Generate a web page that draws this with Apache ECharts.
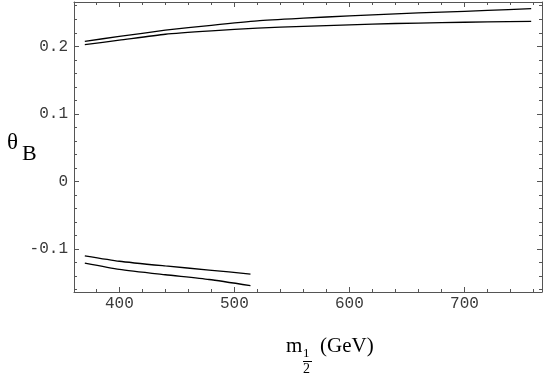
<!DOCTYPE html>
<html>
<head>
<meta charset="utf-8">
<script src="https://cdn.jsdelivr.net/npm/echarts@6/dist/echarts.min.js"></script>
<style>html,body{margin:0;padding:0;background:#fff}#c{width:545px;height:383px}</style>
</head>
<body>
<div id="c"></div>
<script>
// Upper branch (two curves)
var upperX = [370, 400, 440, 480, 520, 560, 600, 640, 680, 720, 758];
var upperA = [0.2074, 0.2145, 0.2238, 0.2310, 0.2375, 0.2415, 0.2450, 0.2480, 0.2505, 0.2530, 0.2557];
var upperB = [0.2025, 0.2090, 0.2178, 0.2228, 0.2268, 0.2295, 0.2318, 0.2337, 0.2350, 0.2360, 0.2369];
// Lower branch (two curves)
var lowerX = [370, 400, 440, 478, 514];
var lowerA = [-0.110, -0.118, -0.125, -0.131, -0.137];
var lowerB = [-0.1207, -0.130, -0.138, -0.145, -0.154];
// Ticks
var xMajor = [400, 500, 600, 700];
var xMinor = [380, 420, 440, 460, 480, 520, 540, 560, 580, 620, 640, 660, 680, 720, 740, 760];
var yMajor = [-0.1, 0, 0.1, 0.2];
var yMinor = [-0.16, -0.14, -0.12, -0.08, -0.06, -0.04, -0.02, 0.02, 0.04, 0.06, 0.08, 0.12, 0.14, 0.16, 0.18, 0.22, 0.24, 0.26];

var XMIN = 360.6, XMAX = 767.4, YMIN = -0.1635, YMAX = 0.2655;
function pairs(xs, ys) { return xs.map(function (x, i) { return [x, ys[i]]; }); }

var lineCol = '#555';
var labCol = '#3a3a3a';
function xAx(pos, vals, len, showLine, showLabel) {
  return {
    type: 'value', gridIndex: 0, position: pos, min: XMIN, max: XMAX,
    splitLine: { show: false },
    axisLine: { show: showLine, onZero: false, lineStyle: { color: lineCol, width: 1 } },
    axisTick: { show: true, inside: true, length: len, customValues: vals, lineStyle: { color: lineCol, width: 1 } },
    axisLabel: { show: showLabel, customValues: vals, margin: 4, color: labCol,
      fontFamily: 'Liberation Mono', fontSize: 16,
      formatter: function (v) { return String(Math.round(v)); } }
  };
}
function yAx(pos, vals, len, showLine, showLabel) {
  return {
    type: 'value', gridIndex: 0, position: pos, min: YMIN, max: YMAX,
    splitLine: { show: false },
    axisLine: { show: showLine, onZero: false, lineStyle: { color: lineCol, width: 1 } },
    axisTick: { show: true, inside: true, length: len, customValues: vals, lineStyle: { color: lineCol, width: 1 } },
    axisLabel: { show: showLabel, customValues: vals, margin: 6, color: labCol,
      fontFamily: 'Liberation Mono', fontSize: 16,
      formatter: function (v) { var r = Math.round(v * 10) / 10; return r === 0 ? '0' : String(r); } }
  };
}

var ser = function (xs, ys) {
  return { type: 'line', xAxisIndex: 0, yAxisIndex: 0, data: pairs(xs, ys), showSymbol: false,
    symbol: 'none', smooth: 0.2, lineStyle: { color: '#000', width: 1.3 }, animation: false };
};

var chart = echarts.init(document.getElementById('c'), null, { renderer: 'canvas' });
chart.setOption({
  animation: false,
  grid: { left: 74, right: 3, top: 2, bottom: 91, containLabel: false },
  xAxis: [
    xAx('bottom', xMajor, 5, true, true),
    xAx('bottom', xMinor, 3, false, false),
    xAx('top', xMajor, 5, true, false),
    xAx('top', xMinor, 3, false, false)
  ],
  yAxis: [
    yAx('left', yMajor, 5, true, true),
    yAx('left', yMinor, 3, false, false),
    yAx('right', yMajor, 5, true, false),
    yAx('right', yMinor, 3, false, false)
  ],
  series: [
    ser(upperX, upperA), ser(upperX, upperB),
    ser(lowerX, lowerA), ser(lowerX, lowerB)
  ],
  graphic: [
    { type: 'text', left: 7, top: 131, style: { text: 'θ', font: '23px "Liberation Serif"', fill: '#000' } },
    { type: 'text', left: 22, top: 143, style: { text: 'B', font: '22px "Liberation Serif"', fill: '#000' } },
    { type: 'text', left: 286, top: 336, style: { text: 'm', font: '21px "Liberation Serif"', fill: '#000' } },
    { type: 'text', left: 303, top: 347, style: { text: '1', font: '13px "Liberation Serif"', fill: '#000' } },
    { type: 'rect', left: 303, top: 361, shape: { width: 9, height: 1 }, style: { fill: '#000' } },
    { type: 'text', left: 303, top: 362, style: { text: '2', font: '14px "Liberation Serif"', fill: '#000' } },
    { type: 'text', left: 320, top: 336, style: { text: '(GeV)', font: '21px "Liberation Serif"', fill: '#000' } }
  ]
});
</script>
</body>
</html>
